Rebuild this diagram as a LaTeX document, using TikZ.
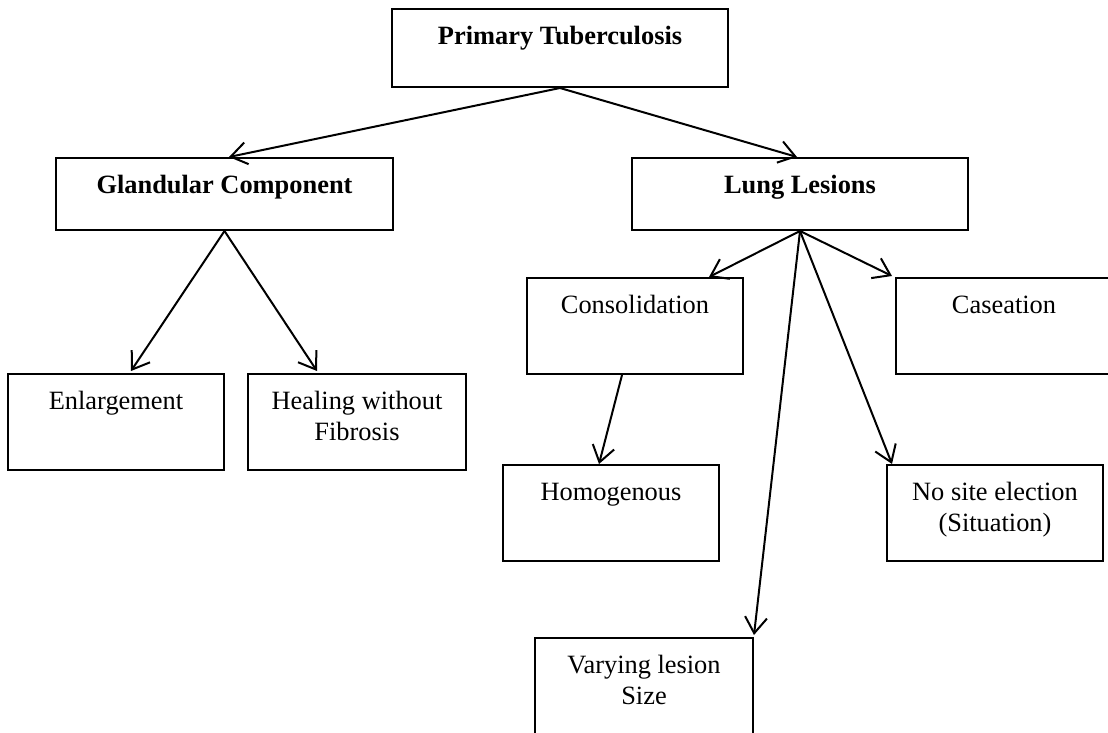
\documentclass[tikz,border=0pt]{standalone}
\usepackage{fontspec}
\setmainfont{Liberation Serif}
\usetikzlibrary{arrows.meta}

\tikzset{
  box/.style={draw=black, line width=2pt, fill=none, inner sep=0pt, rectangle},
  lbl/.style={anchor=base, inner sep=0pt, font=\fontsize{26.4}{31.7}\selectfont},
  blbl/.style={lbl, font=\fontsize{26.4}{31.7}\selectfont\bfseries},
  arr/.style={line width=2pt, -{Straight Barb[length=16pt,width=22pt]}}
}
\newcommand{\twolines}[2]{\begin{tabular}[t]{@{}c@{}}#1\\#2\end{tabular}}

\begin{document}
\begin{tikzpicture}[x=1pt, y=-1pt]
  \useasboundingbox (0,0) rectangle (1108,732);

  % boxes
  \node[box, minimum width=336pt, minimum height=78pt] (prim)   at (560,48)    {};
  \node[box, minimum width=337pt, minimum height=72pt] (gland)  at (224.5,194) {};
  \node[box, minimum width=336pt, minimum height=72pt] (lung)   at (800,194)   {};
  \node[box, minimum width=216pt, minimum height=96pt] (cons)   at (635,326)   {};
  \node[box, minimum width=216pt, minimum height=96pt] (case)   at (1004,326)  {};
  \node[box, minimum width=216pt, minimum height=96pt] (enl)    at (116,422)   {};
  \node[box, minimum width=218pt, minimum height=96pt] (heal)   at (357,422)   {};
  \node[box, minimum width=216pt, minimum height=96pt] (homo)   at (611,513)   {};
  \node[box, minimum width=216pt, minimum height=96pt] (nosite) at (995,513)   {};
  \node[box, minimum width=218pt, minimum height=96pt] (vary)   at (644,686)   {};

  % labels, first baseline 36pt below each box top
  \node[blbl] (primT)  at ([yshift=-36pt]prim.north)   {Primary Tuberculosis};
  \node[blbl] (glandT) at ([yshift=-36pt]gland.north)  {Glandular Component};
  \node[blbl] (lungT)  at ([yshift=-36pt]lung.north)   {Lung Lesions};
  \node[lbl]  (consT)  at ([yshift=-36pt]cons.north)   {Consolidation};
  \node[lbl]  (caseT)  at ([yshift=-36pt]case.north)   {Caseation};
  \node[lbl]  (enlT)   at ([yshift=-36pt]enl.north)    {Enlargement};
  \node[lbl]  (healT)  at ([yshift=-36pt]heal.north)   {\twolines{Healing without}{Fibrosis}};
  \node[lbl]  (homoT)  at ([yshift=-36pt]homo.north)   {Homogenous};
  \node[lbl]  (nositeT) at ([yshift=-36pt]nosite.north) {\twolines{No site election}{(Situation)}};
  \node[lbl]  (varyT)  at ([yshift=-36pt]vary.north)   {\twolines{Varying lesion}{Size}};

  % connectors
  \draw[arr] (prim.south) -- ([xshift=4.5pt]gland.north);
  \draw[arr] (prim.south) -- ([xshift=-3pt]lung.north);
  \draw[arr] (gland.south) -- ([xshift=15pt,yshift=2pt]enl.north);
  \draw[arr] (gland.south) -- ([xshift=-40pt,yshift=2pt]heal.north);
  \draw[arr] (lung.south) -- ([xshift=-35pt]cons.north east);
  \draw[arr] (lung.south) -- ([xshift=-3pt,yshift=1pt]case.north west);
  \draw[arr] (lung.south) -- ([yshift=2pt]vary.north east);
  \draw[arr] (lung.south) -- ([xshift=6pt]nosite.north west);
  \draw[arr] ([xshift=-13pt]cons.south) -- ([xshift=-12pt]homo.north);
\end{tikzpicture}
\end{document}
